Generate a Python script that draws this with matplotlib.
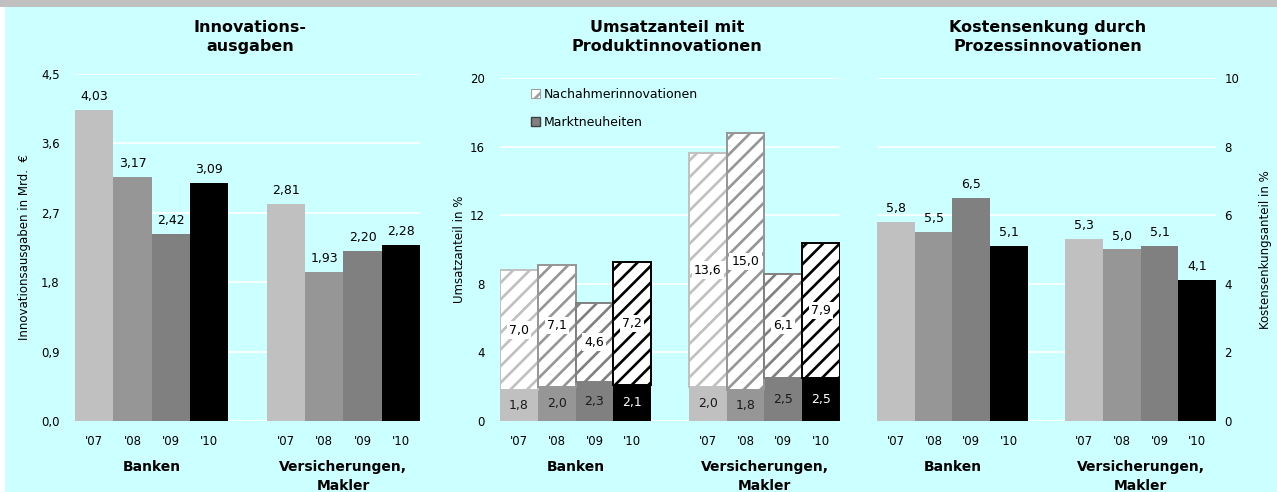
import matplotlib
matplotlib.use("Agg")
import matplotlib.pyplot as plt
from matplotlib.patches import Patch, Rectangle
from matplotlib.ticker import FuncFormatter
from matplotlib import transforms

years = ["'07", "'08", "'09", "'10"]
groups = ["Banken", "Versicherungen,\nMakler"]

# Innovationsausgaben in Mrd. EUR
ausgaben_banken = [4.03, 3.17, 2.42, 3.09]
ausgaben_vers = [2.81, 1.93, 2.20, 2.28]

# Umsatzanteil in %
markt_banken = [1.8, 2.0, 2.3, 2.1]
nachahmer_banken = [7.0, 7.1, 4.6, 7.2]
markt_vers = [2.0, 1.8, 2.5, 2.5]
nachahmer_vers = [13.6, 15.0, 6.1, 7.9]

# Kostensenkungsanteil in %
kosten_banken = [5.8, 5.5, 6.5, 5.1]
kosten_vers = [5.3, 5.0, 5.1, 4.1]

colors = ["#c0c0c0", "#969696", "#808080", "#000000"]
bg = "#ccffff"
W, H = 1277, 492

plt.rcParams["font.family"] = "DejaVu Sans"
plt.rcParams["hatch.linewidth"] = 1.9

fig = plt.figure(figsize=(W / 100, H / 100), dpi=100)
fig.patch.set_facecolor(bg)
fig.patches.append(Rectangle((0, 1 - 7 / H), 1, 7 / H, transform=fig.transFigure,
                             facecolor="#c0c0c0", edgecolor="none", zorder=-5))
fig.patches.append(Rectangle((0, 0), 5 / W, 1 - 7 / H, transform=fig.transFigure,
                             facecolor="white", edgecolor="none", zorder=-5))

xb = [0, 1, 2, 3]
xv = [5, 6, 7, 8]


def make_ax(left, right, top, bottom=421):
    return fig.add_axes([left / W, 1 - bottom / H, (right - left) / W, (bottom - top) / H])


def comma(v, nd):
    return f"{v:.{nd}f}".replace(".", ",")


def style(ax, ymax, step, nd, right=False):
    ax.set_facecolor(bg)
    for s in ax.spines.values():
        s.set_visible(False)
    ax.set_xlim(-0.5, 8.5)
    ax.set_ylim(0, ymax)
    ticks = [i * step for i in range(int(round(ymax / step)) + 1)]
    ax.set_yticks(ticks)
    ax.yaxis.set_major_formatter(FuncFormatter(lambda v, p: comma(v, nd)))
    ax.grid(axis="y", color="white", linewidth=1.2)
    ax.set_axisbelow(True)
    ax.set_xticks(xb + xv)
    ax.set_xticklabels(years + years, fontsize=8.5)
    ax.tick_params(length=0, labelsize=8.5)
    ax.tick_params(axis="x", pad=10)
    ax.tick_params(axis="y", pad=11 if not right else 6)
    if right:
        ax.yaxis.tick_right()
        ax.yaxis.set_label_position("right")
    tr = transforms.blended_transform_factory(ax.transData, fig.transFigure)
    for cx, g in zip([1.5, 6.5], groups):
        ax.text(cx, 1 - 460 / H, g, transform=tr, ha="center", va="top",
                fontsize=10, fontweight="bold", linespacing=1.45)


# Panel 1
ax1 = make_ax(75, 420, 74)
style(ax1, 4.5, 0.9, 1)
vals = ausgaben_banken + ausgaben_vers
ax1.bar(xb + xv, vals, width=1.0, color=colors + colors)
for x, v in zip(xb + xv, vals):
    ax1.annotate(comma(v, 2), (x, v), xytext=(0, 5), textcoords="offset points",
                 ha="center", va="bottom", fontsize=9)
ax1.set_ylabel("Innovationsausgaben in Mrd.  €", fontsize=8.5, labelpad=7)

# Panel 2
ax2 = make_ax(500, 840, 78)
style(ax2, 20, 4, 0)
markt = markt_banken + markt_vers
nach = nachahmer_banken + nachahmer_vers
cols = colors + colors
ax2.bar(xb + xv, markt, width=1.0, color=cols, linewidth=0)
ax2.bar(xb + xv, nach, width=1.0, bottom=markt, facecolor="white", edgecolor=cols,
        hatch="//", linewidth=1.4)
for x, m, n, c in zip(xb + xv, markt, nach, cols):
    ax2.text(x, m / 2, comma(m, 1), ha="center", va="center", fontsize=9,
             color="white" if c == "#000000" else "#1a1a1a")
    ax2.text(x, m + n / 2, comma(n, 1), ha="center", va="center", fontsize=9,
             bbox=dict(facecolor="white", edgecolor="none", pad=1.5))
ax2.set_ylabel("Umsatzanteil in %", fontsize=8.5, labelpad=3)
handles = [Patch(facecolor="white", edgecolor="#a0a0a0", hatch="//", linewidth=0.8),
           Patch(facecolor="#808080", edgecolor="#404040", linewidth=1.0)]
ax2.legend(handles, ["Nachahmerinnovationen", "Marktneuheiten"], loc="upper left",
           bbox_to_anchor=(0.075, 0.985), frameon=False, fontsize=9,
           handlelength=0.75, handleheight=0.75, handletextpad=0.3, labelspacing=1.15,
           borderaxespad=0)

# Panel 3
ax3 = make_ax(877, 1216, 78)
style(ax3, 10, 2, 0, right=True)
vals = kosten_banken + kosten_vers
ax3.bar(xb + xv, vals, width=1.0, color=colors + colors)
for x, v in zip(xb + xv, vals):
    ax3.annotate(comma(v, 1), (x, v), xytext=(0, 5), textcoords="offset points",
                 ha="center", va="bottom", fontsize=9)
ax3.set_ylabel("Kostensenkungsanteil in %", fontsize=8.5, labelpad=14)

# titles
for cx, t in [(250, "Innovations-\nausgaben"),
              (667, "Umsatzanteil mit\nProduktinnovationen"),
              (1048, "Kostensenkung durch\nProzessinnovationen")]:
    fig.text(cx / W, 1 - 37 / H, t, ha="center", va="center", fontsize=11.5,
             fontweight="bold", linespacing=1.35)

fig.savefig("out.png", dpi=100, facecolor=bg)
